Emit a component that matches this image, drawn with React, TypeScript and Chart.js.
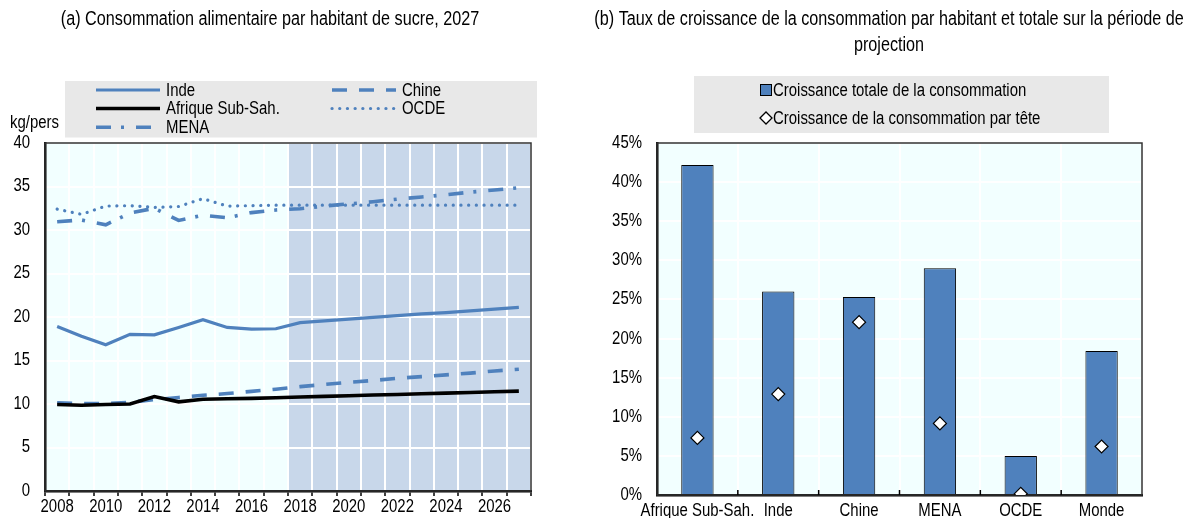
import React, { useEffect, useRef } from 'react';
import { Chart, registerables } from 'chart.js';

Chart.register(...registerables);

const FONT = "'Liberation Sans', Arial, sans-serif";
const NARROW = 0.83;
const BLUE = '#4F81BD';
const AZURE = '#F2FFFF';
const SHADE = '#C8D7EA';
const LEGEND_BG = '#E8E8E8';

// ---------- Panel (a) data ----------
const years = ['2008', '2009', '2010', '2011', '2012', '2013', '2014', '2015', '2016', '2017',
  '2018', '2019', '2020', '2021', '2022', '2023', '2024', '2025', '2026', '2027'];
const inde = [18.9, 17.8, 16.8, 18.0, 17.95, 18.8, 19.7, 18.8, 18.6, 18.65,
  19.35, 19.55, 19.75, 19.95, 20.15, 20.35, 20.5, 20.7, 20.9, 21.1];
const chine = [10.15, 10.05, 10.05, 10.2, 10.5, 10.75, 11.0, 11.2, 11.45, 11.7,
  12.0, 12.25, 12.5, 12.7, 12.95, 13.15, 13.35, 13.55, 13.8, 14.0];
const afrique = [9.95, 9.85, 9.95, 10.0, 10.85, 10.25, 10.55, 10.6, 10.65, 10.72,
  10.8, 10.88, 10.95, 11.03, 11.1, 11.18, 11.25, 11.33, 11.4, 11.48];
const ocde = [32.4, 31.8, 32.75, 32.8, 32.6, 32.7, 33.6, 32.75, 32.8, 32.85,
  32.85, 32.85, 32.85, 32.85, 32.85, 32.85, 32.85, 32.85, 32.85, 32.85];
const mena = [30.95, 31.15, 30.6, 31.95, 32.5, 31.1, 31.7, 31.4, 32.0, 32.3,
  32.45, 32.75, 33.0, 33.25, 33.55, 33.8, 34.05, 34.35, 34.6, 34.85];
const projectionStart = '2018';
const titleA = '(a) Consommation alimentaire par habitant de sucre, 2027';
const unitA = 'kg/pers';

// ---------- Panel (b) data ----------
const regions = ['Afrique Sub-Sah.', 'Inde', 'Chine', 'MENA', 'OCDE', 'Monde'];
const totalGrowth = [42.2, 26.0, 25.3, 29.0, 5.0, 18.4];
const perCapitaGrowth = [7.3, 12.9, 22.1, 9.15, 0.15, 6.2];
const titleB = ['(b) Taux de croissance de la consommation par habitant et totale sur la période de', 'projection'];
const labelTotal = 'Croissance totale de la consommation';
const labelPerCapita = 'Croissance de la consommation par tête';

function drawText(ctx: CanvasRenderingContext2D, text: string, x: number, y: number, size: number, align: CanvasTextAlign) {
  ctx.save();
  ctx.fillStyle = '#000';
  ctx.font = `${size}px ${FONT}`;
  ctx.textAlign = align;
  ctx.textBaseline = 'middle';
  ctx.translate(x, y);
  ctx.scale(NARROW, 1);
  ctx.fillText(text, 0, 0);
  ctx.restore();
}

function drawTickLabels(chart: any, xLabelY: number, yGap: number, yFmt: (v: number) => string, xLabel: (i: number) => string) {
  const { ctx, scales, chartArea: a } = chart;
  const xs = scales.x;
  const ys = scales.y;
  xs.ticks.forEach((_t: any, i: number) => {
    const lbl = xLabel(i);
    if (lbl) drawText(ctx, lbl, xs.getPixelForTick(i), xLabelY, 18, 'center');
  });
  ys.ticks.forEach((t: any) => {
    drawText(ctx, yFmt(t.value), a.left - yGap, ys.getPixelForValue(t.value), 18, 'right');
  });
}

function LeftChart() {
  const ref = useRef<HTMLCanvasElement>(null);
  useEffect(() => {
    const styles: Record<string, any> = {
      Inde: { color: BLUE, width: 3.2, dash: [], cap: 'butt' },
      Chine: { color: BLUE, width: 3.6, dash: [15, 12], cap: 'butt' },
      'Afrique Sub-Sah.': { color: '#000', width: 3.6, dash: [], cap: 'butt' },
      OCDE: { color: BLUE, width: 3.2, dash: [0.1, 7.6], cap: 'round' },
      MENA: { color: BLUE, width: 3.6, dash: [15, 10, 3, 12], cap: 'butt' },
    };
    const mk = (label: string, data: number[]) => ({
      label,
      data,
      borderColor: styles[label].color,
      borderWidth: styles[label].width,
      borderDash: styles[label].dash,
      borderCapStyle: styles[label].cap,
      pointRadius: 0,
      tension: 0,
      fill: false,
    });
    const legendPos = [
      { label: 'Inde', x: 96, y: 90 },
      { label: 'Chine', x: 332, y: 90 },
      { label: 'Afrique Sub-Sah.', x: 96, y: 108.5 },
      { label: 'OCDE', x: 332, y: 108.5 },
      { label: 'MENA', x: 96, y: 127.3 },
    ];
    const decor = {
      id: 'decorA',
      beforeDraw(chart: any) {
        const { ctx, chartArea: a, scales } = chart;
        ctx.save();
        ctx.fillStyle = AZURE;
        ctx.fillRect(a.left, a.top, a.right - a.left, a.bottom - a.top);
        const xs = scales.x;
        const idx = years.indexOf(projectionStart);
        const band = xs.getPixelForValue(1) - xs.getPixelForValue(0);
        const sx = xs.getPixelForValue(idx) - band / 2;
        ctx.fillStyle = SHADE;
        ctx.fillRect(sx, a.top, a.right - sx, a.bottom - a.top);
        drawText(ctx, titleA, 270, 20, 19.5, 'center');
        drawText(ctx, unitA, 10, 123, 18, 'left');
        ctx.fillStyle = LEGEND_BG;
        ctx.fillRect(65, 81, 537 - 65, 137.5 - 81);
        legendPos.forEach((p) => {
          const s = styles[p.label];
          ctx.save();
          ctx.strokeStyle = s.color;
          ctx.lineWidth = s.width;
          ctx.setLineDash(s.dash);
          ctx.lineCap = s.cap;
          ctx.beginPath();
          ctx.moveTo(p.x, p.y);
          ctx.lineTo(p.x + 64, p.y);
          ctx.stroke();
          ctx.restore();
          drawText(ctx, p.label, p.x + 70, p.y + 1, 18, 'left');
        });
        ctx.restore();
      },
      beforeDatasetsDraw(chart: any) {
        const { ctx, chartArea: a } = chart;
        ctx.save();
        ctx.strokeStyle = '#333';
        ctx.lineWidth = 1.5;
        ctx.strokeRect(a.left, a.top, a.right - a.left, a.bottom - a.top);
        ctx.restore();
        drawTickLabels(chart, 507, 15, (v) => String(v), (i) => (i % 2 === 0 ? years[i] : ''));
      },
    };
    const chart = new Chart(ref.current!, {
      type: 'line',
      data: {
        labels: years,
        datasets: [
          mk('Afrique Sub-Sah.', afrique),
          mk('Inde', inde),
          mk('Chine', chine),
          mk('OCDE', ocde),
          mk('MENA', mena),
        ],
      },
      options: {
        responsive: false,
        animation: false,
        layout: { padding: { top: 143, right: 29, left: 0, bottom: 0 } },
        plugins: { legend: { display: false }, tooltip: { enabled: false }, title: { display: false } },
        scales: {
          x: {
            type: 'category',
            offset: true,
            grid: { offset: true, color: '#fff', lineWidth: 2, tickColor: '#000', tickLength: 5, tickWidth: 1.5 },
            border: { color: '#000', width: 2.5 },
            ticks: { display: false, autoSkip: false, maxRotation: 0, minRotation: 0 },
            afterFit: (s: any) => { s.height = 27; },
          },
          y: {
            min: 0, max: 40,
            ticks: { display: false, stepSize: 5 },
            grid: { color: '#fff', lineWidth: 2, drawTicks: false },
            border: { color: '#000', width: 2.5 },
            afterFit: (s: any) => { s.width = 45; },
          },
        },
      },
      plugins: [decor],
    } as any);
    return () => chart.destroy();
  }, []);
  return <canvas ref={ref} width={560} height={518} style={{ position: 'absolute', left: 0, top: 0, width: 560, height: 518 }} />;
}

function RightChart() {
  const ref = useRef<HTMLCanvasElement>(null);
  useEffect(() => {
    const decor = {
      id: 'decorB',
      beforeDraw(chart: any) {
        const { ctx, chartArea: a } = chart;
        ctx.save();
        ctx.fillStyle = AZURE;
        ctx.fillRect(a.left, a.top, a.right - a.left, a.bottom - a.top);
        drawText(ctx, titleB[0], 329, 20, 19.5, 'center');
        drawText(ctx, titleB[1], 329, 46, 19.5, 'center');
        ctx.fillStyle = LEGEND_BG;
        ctx.fillRect(134, 76, 549 - 134, 133 - 76);
        ctx.fillStyle = BLUE;
        ctx.fillRect(200.5, 84.5, 11, 11);
        ctx.strokeStyle = '#000';
        ctx.lineWidth = 1;
        ctx.strokeRect(200.5, 84.5, 11, 11);
        ctx.beginPath();
        ctx.moveTo(200, 118);
        ctx.lineTo(206, 112);
        ctx.lineTo(212, 118);
        ctx.lineTo(206, 124);
        ctx.closePath();
        ctx.fillStyle = '#fff';
        ctx.fill();
        ctx.lineWidth = 1.3;
        ctx.stroke();
        drawText(ctx, labelTotal, 213, 91, 18, 'left');
        drawText(ctx, labelPerCapita, 213, 119, 18, 'left');
        ctx.restore();
      },
      beforeDatasetsDraw(chart: any) {
        const { ctx, chartArea: a } = chart;
        ctx.save();
        ctx.strokeStyle = '#333';
        ctx.lineWidth = 1.5;
        ctx.strokeRect(a.left, a.top, a.right - a.left, a.bottom - a.top);
        ctx.restore();
        drawTickLabels(chart, 511, 15, (v) => `${v}%`, (i) => regions[i]);
      },
      afterDatasetsDraw(chart: any) {
        const { ctx, chartArea: a } = chart;
        const n = regions.length;
        const band = (a.right - a.left) / n;
        ctx.save();
        ctx.strokeStyle = '#000';
        ctx.lineWidth = 1.5;
        for (let i = 1; i < n; i++) {
          const x = a.left + band * i;
          ctx.beginPath();
          ctx.moveTo(x, a.bottom - 5);
          ctx.lineTo(x, a.bottom);
          ctx.stroke();
        }
        ctx.restore();
      },
    };
    const chart = new Chart(ref.current!, {
      type: 'bar',
      data: {
        labels: regions,
        datasets: [
          {
            type: 'line',
            label: labelPerCapita,
            data: perCapitaGrowth,
            showLine: false,
            pointStyle: 'rectRot',
            pointRadius: 6.5,
            pointBackgroundColor: '#fff',
            pointBorderColor: '#000',
            pointBorderWidth: 1.2,
            order: 0,
          },
          {
            type: 'bar',
            label: labelTotal,
            data: totalGrowth,
            backgroundColor: BLUE,
            borderColor: '#000',
            borderWidth: 1,
            barPercentage: 0.4,
            categoryPercentage: 1,
            order: 1,
          },
        ],
      },
      options: {
        responsive: false,
        animation: false,
        layout: { padding: { top: 143, right: 43, left: 0, bottom: 0 } },
        plugins: { legend: { display: false }, tooltip: { enabled: false }, title: { display: false } },
        scales: {
          x: {
            offset: true,
            grid: { offset: true, color: '#fff', lineWidth: 2, drawTicks: false },
            border: { color: '#000', width: 2.5 },
            ticks: { display: false, autoSkip: false, maxRotation: 0, minRotation: 0 },
            afterFit: (s: any) => { s.height = 23; },
          },
          y: {
            min: 0, max: 45,
            ticks: { display: false, stepSize: 5 },
            grid: { color: '#fff', lineWidth: 2, drawTicks: false },
            border: { color: '#000', width: 2.5 },
            afterFit: (s: any) => { s.width = 97; },
          },
        },
      },
      plugins: [decor],
    } as any);
    return () => chart.destroy();
  }, []);
  return <canvas ref={ref} width={625} height={518} style={{ position: 'absolute', left: 560, top: 0, width: 625, height: 518 }} />;
}

export default function App() {
  return (
    <div style={{ position: 'fixed', left: 0, top: 0, width: 1185, height: 518, background: '#fff', overflow: 'hidden' }}>
      <LeftChart />
      <RightChart />
    </div>
  );
}
